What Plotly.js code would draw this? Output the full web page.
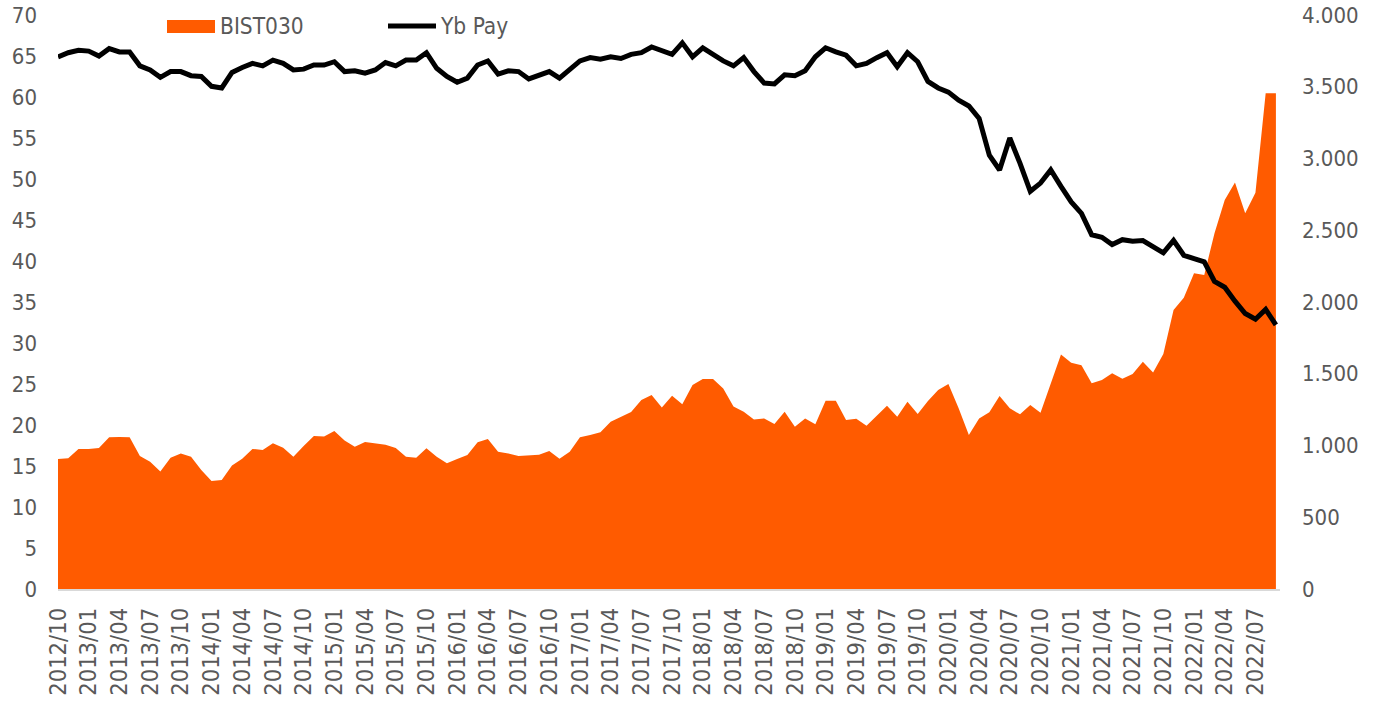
<!DOCTYPE html>
<html>
<head>
<meta charset="utf-8">
<script src="https://cdn.plot.ly/plotly-3.0.1.min.js"></script>
<style>
  html, body { margin: 0; padding: 0; background: #ffffff; }
  #chart { width: 1385px; height: 701px; }
</style>
</head>
<body>
<div id="chart"></div>
<script>
// Monthly categories, 2012/10 .. 2022/09
const months = [
  "2012/10","2012/11","2012/12",
  "2013/01","2013/02","2013/03","2013/04","2013/05","2013/06","2013/07","2013/08","2013/09","2013/10","2013/11","2013/12",
  "2014/01","2014/02","2014/03","2014/04","2014/05","2014/06","2014/07","2014/08","2014/09","2014/10","2014/11","2014/12",
  "2015/01","2015/02","2015/03","2015/04","2015/05","2015/06","2015/07","2015/08","2015/09","2015/10","2015/11","2015/12",
  "2016/01","2016/02","2016/03","2016/04","2016/05","2016/06","2016/07","2016/08","2016/09","2016/10","2016/11","2016/12",
  "2017/01","2017/02","2017/03","2017/04","2017/05","2017/06","2017/07","2017/08","2017/09","2017/10","2017/11","2017/12",
  "2018/01","2018/02","2018/03","2018/04","2018/05","2018/06","2018/07","2018/08","2018/09","2018/10","2018/11","2018/12",
  "2019/01","2019/02","2019/03","2019/04","2019/05","2019/06","2019/07","2019/08","2019/09","2019/10","2019/11","2019/12",
  "2020/01","2020/02","2020/03","2020/04","2020/05","2020/06","2020/07","2020/08","2020/09","2020/10","2020/11","2020/12",
  "2021/01","2021/02","2021/03","2021/04","2021/05","2021/06","2021/07","2021/08","2021/09","2021/10","2021/11","2021/12",
  "2022/01","2022/02","2022/03","2022/04","2022/05","2022/06","2022/07","2022/08","2022/09"
];

// Tick labels shown on the category axis (every third month)
const tickLabels = [
  "2012/10","2013/01","2013/04","2013/07","2013/10","2014/01","2014/04","2014/07","2014/10",
  "2015/01","2015/04","2015/07","2015/10","2016/01","2016/04","2016/07","2016/10",
  "2017/01","2017/04","2017/07","2017/10","2018/01","2018/04","2018/07","2018/10",
  "2019/01","2019/04","2019/07","2019/10","2020/01","2020/04","2020/07","2020/10",
  "2021/01","2021/04","2021/07","2021/10","2022/01","2022/04","2022/07"
];

// BIST030 index (right axis)
const bist030 = [
  906, 911, 976, 976, 983, 1057, 1059, 1057, 927, 887,
  818, 915, 945, 922, 829, 753, 760, 860, 908, 976,
  969, 1015, 985, 922, 997, 1066, 1062, 1101, 1034, 992,
  1024, 1015, 1006, 983, 922, 915, 980, 922, 876, 906,
  934, 1022, 1045, 957, 945, 927, 932, 936, 962, 908,
  957, 1057, 1073, 1092, 1166, 1201, 1234, 1317, 1352, 1264,
  1347, 1287, 1422, 1463, 1463, 1398, 1271, 1236, 1182, 1189,
  1150, 1236, 1131, 1189, 1148, 1312, 1312, 1178, 1187, 1138,
  1208, 1277, 1201, 1305, 1220, 1310, 1387, 1429, 1259, 1073,
  1189, 1231, 1345, 1259, 1217, 1282, 1229, 1433, 1635, 1577,
  1559, 1433, 1457, 1503, 1466, 1498, 1584, 1508, 1638, 1944,
  2030, 2200, 2189, 2479, 2711, 2832, 2618, 2762, 3454, 3454
];

// Foreign ownership share, % (left axis)
const ybPay = [
  64.9, 65.4, 65.7, 65.6, 65.0, 65.9, 65.5, 65.5, 63.8, 63.3,
  62.4, 63.1, 63.1, 62.6, 62.5, 61.3, 61.1, 63.0, 63.6, 64.1,
  63.8, 64.5, 64.1, 63.3, 63.4, 63.9, 63.9, 64.3, 63.1, 63.2,
  62.9, 63.3, 64.2, 63.8, 64.5, 64.5, 65.4, 63.5, 62.5, 61.8,
  62.3, 63.9, 64.4, 62.8, 63.2, 63.1, 62.2, 62.6, 63.1, 62.3,
  63.3, 64.4, 64.8, 64.6, 64.9, 64.7, 65.2, 65.4, 66.1, 65.6,
  65.2, 66.6, 64.9, 66.0, 65.2, 64.4, 63.8, 64.8, 63.1, 61.7,
  61.6, 62.7, 62.6, 63.2, 64.9, 66.0, 65.5, 65.1, 63.8, 64.1,
  64.8, 65.4, 63.7, 65.4, 64.3, 61.9, 61.1, 60.6, 59.6, 58.9,
  57.4, 52.9, 51.1, 55.0, 51.9, 48.5, 49.5, 51.1, 49.1, 47.2,
  45.8, 43.2, 42.9, 42.0, 42.6, 42.4, 42.5, 41.8, 41.0, 42.5,
  40.7, 40.3, 39.9, 37.5, 36.8, 35.1, 33.6, 32.9, 34.1, 32.2
];

const seriesNames = ["BIST030", "Yb Pay"];
const orange = "#FF5B00";
const textGray = "#595959";
const fontFamily = "'DejaVu Sans Condensed', 'DejaVu Sans', sans-serif";

const traces = [
  {
    x: months, y: bist030, name: seriesNames[0],
    type: "scatter", mode: "lines", fill: "tozeroy",
    fillcolor: orange, line: { width: 0, color: orange },
    xaxis: "x", yaxis: "y", showlegend: false, hoverinfo: "x+y"
  },
  {
    x: months, y: ybPay, name: seriesNames[1],
    type: "scatter", mode: "lines",
    line: { width: 5, color: "#000000" },
    xaxis: "x", yaxis: "y2", showlegend: false, hoverinfo: "x+y"
  }
];

const W = 1385, H = 701;
const L = 58, R = 105, T = 15, B = 112;
const pw = W - L - R, ph = H - T - B;
const px = v => (v - L) / pw;
const py = v => (H - B - v) / ph;

const layout = {
  width: W, height: H,
  margin: { l: L, r: R, t: T, b: B, pad: 0 },
  paper_bgcolor: "#ffffff", plot_bgcolor: "#ffffff",
  separators: ",.",
  showlegend: false,
  font: { family: fontFamily, size: 22, color: textGray },
  xaxis: {
    type: "category",
    range: [0, 119.4],
    tickmode: "array", tickvals: tickLabels, ticktext: tickLabels,
    tickangle: -90,
    ticks: "", showgrid: false, zeroline: false,
    showline: true, linecolor: "#D9D9D9", linewidth: 1.5,
    tickfont: { family: fontFamily, size: 23.5, color: textGray },
    ticklabelstandoff: 8,
    fixedrange: true
  },
  yaxis: {
    side: "right",
    range: [0, 4000], dtick: 500, tick0: 0,
    tickformat: ",d",
    ticks: "", showgrid: false, zeroline: false, showline: false,
    tickfont: { family: fontFamily, size: 22, color: textGray },
    ticklabelstandoff: 21,
    fixedrange: true
  },
  yaxis2: {
    overlaying: "y", side: "left",
    range: [0, 70], dtick: 5, tick0: 0,
    ticks: "", showgrid: false, zeroline: false, showline: false,
    tickfont: { family: fontFamily, size: 22, color: textGray },
    ticklabelstandoff: 20,
    fixedrange: true
  },
  shapes: [
    { type: "rect", xref: "paper", yref: "paper",
      x0: px(167), x1: px(215), y0: py(33), y1: py(20),
      fillcolor: orange, line: { width: 0 } },
    { type: "line", xref: "paper", yref: "paper",
      x0: px(388), x1: px(436), y0: py(26), y1: py(26),
      line: { color: "#000000", width: 5 } }
  ],
  annotations: [
    { xref: "paper", yref: "paper", x: px(218), y: py(26),
      xanchor: "left", yanchor: "middle", showarrow: false,
      text: seriesNames[0], font: { family: fontFamily, size: 22.5, color: textGray } },
    { xref: "paper", yref: "paper", x: px(438), y: py(26),
      xanchor: "left", yanchor: "middle", showarrow: false,
      text: seriesNames[1], font: { family: fontFamily, size: 22.5, color: textGray } }
  ]
};

Plotly.newPlot("chart", traces, layout, { displayModeBar: false, staticPlot: true });
</script>
</body>
</html>
